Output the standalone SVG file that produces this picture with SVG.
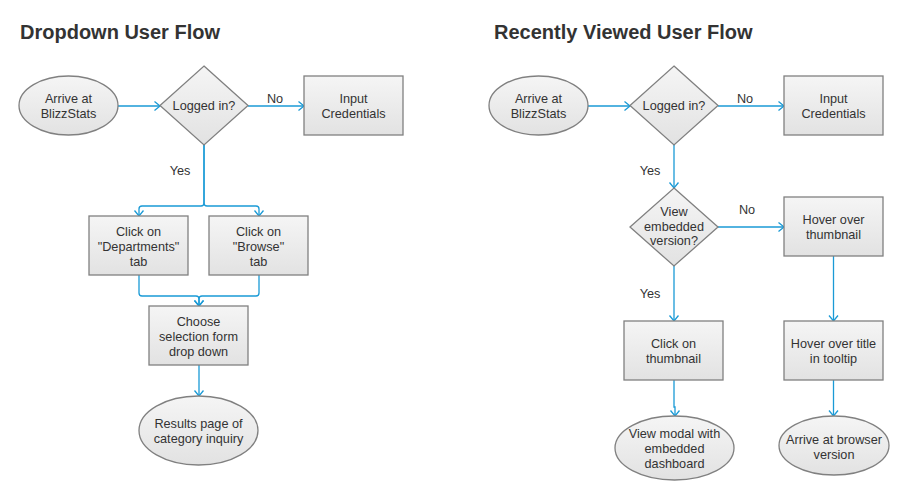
<svg xmlns="http://www.w3.org/2000/svg" width="898" height="490" viewBox="0 0 898 490">
<style>
.title{font-family:"Liberation Sans",Arial,sans-serif;font-size:20px;font-weight:bold;fill:#333}
.node{fill:url(#g);stroke:#808080;stroke-width:1.3}
.t{font-family:"Liberation Sans",Arial,sans-serif;font-size:12.7px;fill:#333;text-anchor:middle}
.c{fill:none;stroke:#1a9ad6;stroke-width:1.3}
.a{marker-end:url(#arr)}
</style>
<defs>
<linearGradient id="g" x1="0" y1="0" x2="0" y2="1">
<stop offset="0" stop-color="#f5f5f5"/>
<stop offset="1" stop-color="#e2e2e2"/>
</linearGradient>
<marker id="arr" markerUnits="userSpaceOnUse" markerWidth="12" markerHeight="12" viewBox="-7 -6 8 12" refX="0" refY="0" orient="auto">
<path d="M-5.5,-4.5 L0,0 L-5.5,4.5" fill="none" stroke="#1a9ad6" stroke-width="1.3"/>
</marker>
</defs>
<rect width="898" height="490" fill="#fff"/>
<text class="title" x="20" y="39">Dropdown User Flow</text>
<text class="title" x="494" y="39">Recently Viewed User Flow</text>

<g id="connectors">
<path class="c a" d="M118,106 H160"/>
<path class="c a" d="M248,106 H304"/>
<path class="c a" d="M204,145 V203 Q204,206 201,206 H142 Q139,206 139,209 V216"/>
<path class="c a" d="M204,145 V203 Q204,206 207,206 H256 Q259,206 259,209 V216"/>
<path class="c a" d="M139,275 V293 Q139,296 142,296 H196 Q199,296 199,299 V306"/>
<path class="c a" d="M259,275 V293 Q259,296 256,296 H202 Q199,296 199,299 V306"/>
<path class="c a" d="M199,365 V396"/>
<path class="c a" d="M588,106 H630"/>
<path class="c a" d="M718,106 H784"/>
<path class="c a" d="M674,145 V188"/>
<path class="c a" d="M718,227 H784"/>
<path class="c a" d="M833.5,256 V321"/>
<path class="c a" d="M833.5,380 V416"/>
<path class="c a" d="M674,266 V321"/>
<path class="c a" d="M674,380 V407 H675 V416"/>
<text class="t" x="275" y="102.5">No</text>
<text class="t" x="180" y="174.5">Yes</text>
<text class="t" x="745" y="102.5">No</text>
<text class="t" x="650" y="174.5">Yes</text>
<text class="t" x="747" y="214">No</text>
<text class="t" x="650" y="298">Yes</text>
</g>

<g id="arrive1">
<ellipse class="node" cx="68.5" cy="105.5" rx="49.5" ry="29.5"/>
<text class="t" x="68.5" y="102.5">Arrive at</text>
<text class="t" x="68.5" y="117.5">BlizzStats</text>
</g>
<g id="logged1">
<polygon class="node" points="204,66 248,105.5 204,145 160,105.5"/>
<text class="t" x="204" y="110">Logged in?</text>
</g>
<g id="credentials1">
<rect class="node" x="304" y="76" width="99" height="59"/>
<text class="t" x="353.5" y="102.5">Input</text>
<text class="t" x="353.5" y="117.5">Credentials</text>
</g>
<g id="departments">
<rect class="node" x="89" y="216" width="99" height="59"/>
<text class="t" x="138.5" y="235.5">Click on</text>
<text class="t" x="138.5" y="250.5">"Departments"</text>
<text class="t" x="138.5" y="265.5">tab</text>
</g>
<g id="browse">
<rect class="node" x="209" y="216" width="99" height="59"/>
<text class="t" x="258.5" y="235.5">Click on</text>
<text class="t" x="258.5" y="250.5">"Browse"</text>
<text class="t" x="258.5" y="265.5">tab</text>
</g>
<g id="choose">
<rect class="node" x="149" y="306" width="99" height="59"/>
<text class="t" x="198.5" y="325.5">Choose</text>
<text class="t" x="198.5" y="340.5">selection form</text>
<text class="t" x="198.5" y="355.5">drop down</text>
</g>
<g id="results">
<ellipse class="node" cx="198.5" cy="430.5" rx="59.5" ry="34.5"/>
<text class="t" x="198.5" y="427.5">Results page of</text>
<text class="t" x="198.5" y="442.5">category inquiry</text>
</g>

<g id="arrive2">
<ellipse class="node" cx="538.5" cy="105.5" rx="49.5" ry="29.5"/>
<text class="t" x="538.5" y="102.5">Arrive at</text>
<text class="t" x="538.5" y="117.5">BlizzStats</text>
</g>
<g id="logged2">
<polygon class="node" points="674,66 718,105.5 674,145 630,105.5"/>
<text class="t" x="674" y="110">Logged in?</text>
</g>
<g id="credentials2">
<rect class="node" x="784" y="76" width="99" height="59"/>
<text class="t" x="833.5" y="102.5">Input</text>
<text class="t" x="833.5" y="117.5">Credentials</text>
</g>
<g id="embedded">
<polygon class="node" points="674,188 718,227 674,266 630,227"/>
<text class="t" x="674" y="216">View</text>
<text class="t" x="674" y="230.5">embedded</text>
<text class="t" x="674" y="245">version?</text>
</g>
<g id="hoverthumb">
<rect class="node" x="784" y="197" width="99" height="59"/>
<text class="t" x="833.5" y="224">Hover over</text>
<text class="t" x="833.5" y="239">thumbnail</text>
</g>
<g id="hovertitle">
<rect class="node" x="784" y="321" width="99" height="59"/>
<text class="t" x="833.5" y="347.5">Hover over title</text>
<text class="t" x="833.5" y="362.5">in tooltip</text>
</g>
<g id="clickthumb">
<rect class="node" x="624" y="321" width="99" height="59"/>
<text class="t" x="673.5" y="347.5">Click on</text>
<text class="t" x="673.5" y="362.5">thumbnail</text>
</g>
<g id="modal">
<ellipse class="node" cx="674.5" cy="448" rx="59.5" ry="32"/>
<text class="t" x="674.5" y="437.5">View modal with</text>
<text class="t" x="674.5" y="452.5">embedded</text>
<text class="t" x="674.5" y="467.5">dashboard</text>
</g>
<g id="browserversion">
<ellipse class="node" cx="834" cy="445.5" rx="55" ry="29.5"/>
<text class="t" x="834" y="443.5">Arrive at browser</text>
<text class="t" x="834" y="458.5">version</text>
</g>
</svg>
